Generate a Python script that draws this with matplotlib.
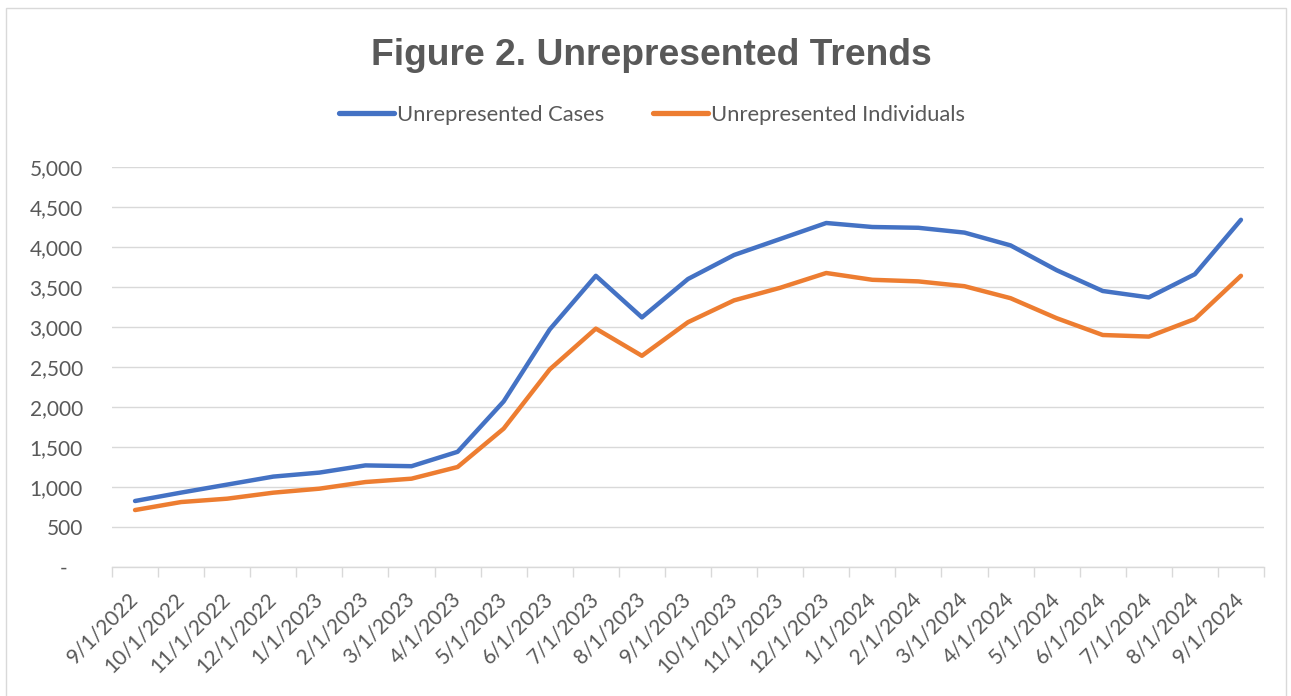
import matplotlib.pyplot as plt
from matplotlib.patches import Rectangle
from matplotlib.ticker import FuncFormatter

dates = [
    "9/1/2022", "10/1/2022", "11/1/2022", "12/1/2022",
    "1/1/2023", "2/1/2023", "3/1/2023", "4/1/2023", "5/1/2023", "6/1/2023",
    "7/1/2023", "8/1/2023", "9/1/2023", "10/1/2023", "11/1/2023", "12/1/2023",
    "1/1/2024", "2/1/2024", "3/1/2024", "4/1/2024", "5/1/2024", "6/1/2024",
    "7/1/2024", "8/1/2024", "9/1/2024",
]
cases = [825, 930, 1030, 1130, 1180, 1270, 1260, 1440, 2070, 2970,
         3640, 3120, 3600, 3900, 4100, 4300, 4250, 4240, 4180, 4020,
         3710, 3450, 3370, 3660, 4340]
individuals = [712, 812, 854, 929, 979, 1062, 1104, 1250, 1730, 2470,
               2980, 2640, 3060, 3333, 3490, 3675, 3590, 3570, 3510, 3360,
               3110, 2900, 2880, 3100, 3640]

W, H = 1291, 696
text_gray = "#595959"
grid_gray = "#d9d9d9"

fig = plt.figure(figsize=(W / 100, H / 100), dpi=100)
fig.patches.append(Rectangle((6 / W, -0.01), 1280 / W, 1 - 8 / H + 0.01,
                             transform=fig.transFigure, fill=False,
                             edgecolor=grid_gray, linewidth=1))

ax = fig.add_axes([112 / W, 1 - 567 / H, (1264 - 112) / W, 400 / H])
x = list(range(len(dates)))
ax.plot(x, cases, color="#4472C4", lw=3.2, solid_capstyle="round",
        solid_joinstyle="round", label="Unrepresented Cases")
ax.plot(x, individuals, color="#ED7D31", lw=3.2, solid_capstyle="round",
        solid_joinstyle="round", label="Unrepresented Individuals")

ax.set_xlim(-0.5, len(dates) - 0.5)
ax.set_ylim(0, 5000)
ax.set_yticks(range(0, 5001, 500))
ax.yaxis.set_major_formatter(FuncFormatter(lambda v, p: "-" if v == 0 else f"{int(v):,}"))
ax.grid(axis="y", color=grid_gray, lw=1)
ax.set_axisbelow(True)

ax.set_xticks(x)
ax.set_xticklabels(dates, rotation=45, ha="right", va="center", rotation_mode="anchor")
ax.set_xticks([i - 0.5 for i in range(len(dates) + 1)], minor=True)
ax.tick_params(axis="x", which="major", length=0, pad=21)
ax.tick_params(axis="x", which="minor", length=7, color=grid_gray, width=1)
ax.tick_params(axis="y", length=0, pad=21)
for lab in ax.get_xticklabels() + ax.get_yticklabels():
    lab.set_fontfamily("Lato")
    lab.set_fontsize(15)
    lab.set_color(text_gray)
# the zero label sits a little left of the others
ax.get_yticklabels()[0].set_x(-0.013)

for side in ["top", "right", "left"]:
    ax.spines[side].set_visible(False)
ax.spines["bottom"].set_color(grid_gray)
ax.spines["bottom"].set_linewidth(1)

fig.text(651 / W, 1 - 65 / H, "Figure 2. Unrepresented Trends", ha="center", va="baseline",
         fontsize=26.8, fontweight="bold", color=text_gray, family="Liberation Sans")
leg = fig.legend(loc="center", bbox_to_anchor=(652 / W, 1 - 115 / H), ncol=2,
                 frameon=False, handlelength=2.5, handletextpad=0.15,
                 columnspacing=2.2, prop={"family": "Lato", "size": 15.8})
for t in leg.get_texts():
    t.set_color(text_gray)
for ln in leg.get_lines():
    ln.set_linewidth(3.8)

fig.savefig("out.png", dpi=100)
